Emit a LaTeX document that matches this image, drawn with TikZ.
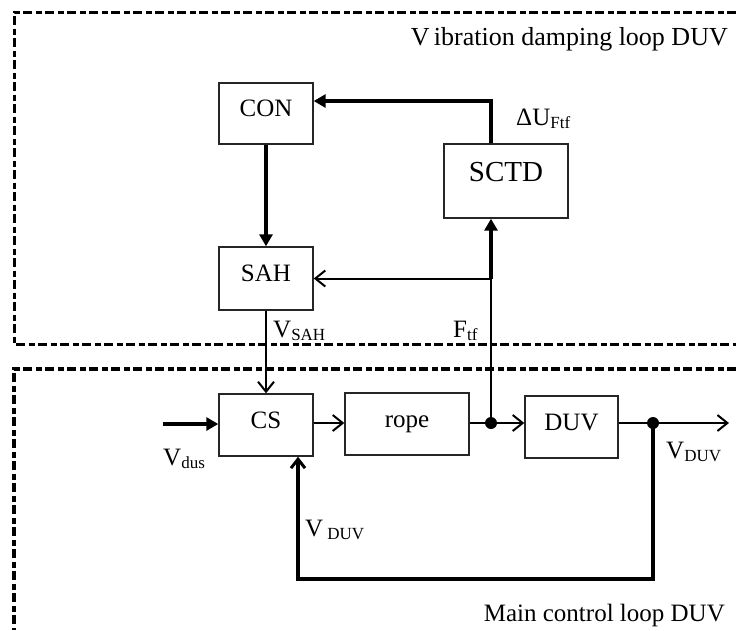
\documentclass[tikz,border=0pt]{standalone}
\usepackage{fontspec}
\setmainfont{Liberation Serif}
\usetikzlibrary{arrows.meta,calc}
\newcommand\subtx[1]{\raisebox{-0.15em}{\fontsize{17}{17}\selectfont #1}}
\begin{document}
\begin{tikzpicture}[x=1pt,y=-1pt,
  blk/.style={draw=black!85, line width=1.4pt, inner sep=0pt,
    font=\fontsize{25}{25}\selectfont, text height=17.5pt, text depth=11pt},
  lbl/.style={inner sep=0pt, font=\fontsize{25}{25}\selectfont},
  frame/.style={line width=3pt, dash pattern=on 9pt off 3.5pt on 6pt off 3.5pt},
  thinline/.style={line width=2pt},
  thinarr/.style={line width=2pt, -{Straight Barb[length=10pt,width=16pt,line width=2pt]}},
  thickarr/.style={line width=4pt, -{Triangle[length=12pt,width=13pt]}},
  fbarr/.style={line width=4pt, line join=miter, -{Straight Barb[length=9pt,width=14pt,line width=3pt]}}
]
\useasboundingbox (0,0) rectangle (736,630);

% dashed loop frames
\draw[frame] (736,12) -- (14,12) -- (14,344) -- (736,344);
\draw[frame, line width=3.5pt] (736,369) -- (14,369) -- (14,630);

% blocks
\node[blk, minimum width=94, minimum height=61] (CON) at (266,113.5) {CON};
\node[blk, font=\fontsize{29}{29}\selectfont, text height=17pt, text depth=16.5pt,
      minimum width=124, minimum height=74] (SCTD) at (506,181) {SCTD};
\node[blk, minimum width=94, minimum height=63] (SAH) at (266,278.5) {SAH};
\node[blk, minimum width=94, minimum height=62] (CS) at (266,425) {CS};
\node[blk, minimum width=124, minimum height=62] (rope) at (407,424) {rope};
\node[blk, minimum width=93, minimum height=62] (DUV) at (571.5,427) {DUV};

% junctions and free ends
\coordinate (j1) at (491,423);
\coordinate (j2) at (653,423);
\coordinate (out) at (729,423);
\coordinate (in) at (163,424);
\coordinate (fbL) at (298,579);

% vibration damping loop
\draw[thickarr, line join=miter] (j1 |- SCTD.north) |- ($(CON.north east)!0.3!(CON.south east)$);
\draw[thickarr] (CON.south) -- (SAH.north);
\draw[thinline] (j1) -- (j1 |- SAH.east);
\draw[thickarr] (j1 |- SAH.east) -- (j1 |- SCTD.south);
\draw[thinarr] (j1 |- SAH.east) -- (SAH.east);
\draw[thinarr] (SAH.south) -- (CS.north);

% main control loop
\draw[thickarr] (in) -- (CS.west |- in);
\draw[thinarr] (CS.east |- j1) -- (rope.west |- j1);
\draw[thinline] (rope.east |- j1) -- (j1);
\draw[thinarr] (j1) -- (DUV.west |- j1);
\draw[thinarr] (DUV.east |- j2) -- (out);
\draw[fbarr] (j2) |- (fbL) -- (fbL |- CS.south);
\fill (j1) circle (6);
\fill (j2) circle (6);

% labels
\node[lbl, font=\fontsize{26}{26}\selectfont, anchor=base east] (tV) at (728,45) {V\,ibration damping loop DUV};
\node[lbl, anchor=base east] (tM) at (725,621) {Main control loop DUV};
\node[lbl, anchor=base west] (dU) at (516,125) {ΔU\subtx{Ftf}};
\node[lbl, anchor=base west] (vsah) at (273,337) {V\subtx{SAH}};
\node[lbl, anchor=base west] (ftf) at (453,337) {F\subtx{tf}};
\node[lbl, anchor=base west] (vdus) at (163,465) {V\subtx{dus}};
\node[lbl, anchor=base west] (vduv1) at (666,458) {V\subtx{DUV}};
\node[lbl, anchor=base west] (vduv2) at (305,536) {V\,\subtx{DUV}};
\end{tikzpicture}
\end{document}
